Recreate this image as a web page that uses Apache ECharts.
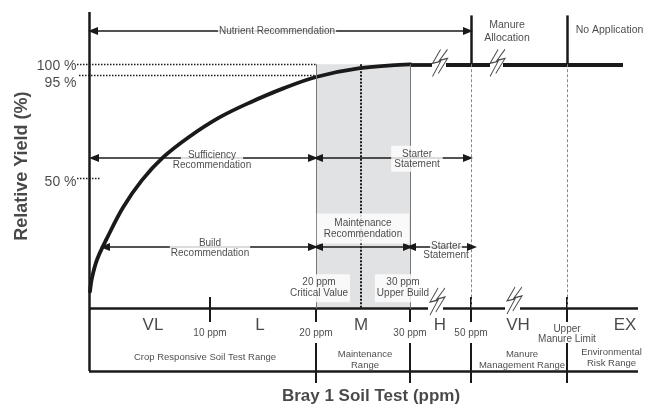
<!DOCTYPE html>
<html><head><meta charset="utf-8">
<script src="https://cdn.jsdelivr.net/npm/echarts@6/dist/echarts.min.js"></script>
<style>html,body{margin:0;padding:0;background:#fff}#c{width:652px;height:407px}</style>
</head><body><div id="c"></div>
<script>
// ---------- data ----------
// schematic soil-test position (x) vs relative yield % (y)
const curveX = [1, 3, 8, 18, 34, 53, 74, 100, 130, 160, 195, 228, 271, 321];
const curveY = [0, 6, 14, 23.5, 37, 49, 59, 68, 76.5, 83, 89.5, 94.5, 98.3, 100];
const yieldTicks = [100, 95, 50];
const yieldTickLabels = ['100 %', '95 %', '50 %'];
const ppmTickPos = [121, 227, 321, 382];
const ppmTickLabels = ['10 ppm', '20 ppm', '30 ppm', '50 ppm'];
const classPos = [64, 171, 272, 351, 429, 536];
const classNames = ['VL', 'L', 'M', 'H', 'VH', 'EX'];
const dividerPos = [227, 321, 382, 478];
const rangeLabelPos = [116, 276, 433, 522.5];
const rangeLabels = ['Crop Responsive Soil Test Range', 'Maintenance\nRange', 'Manure\nManagement Range', 'Environmental\nRisk Range'];
const criticalPos = 227, upperBuildPos = 321, manurePos = 382, manureLimitPos = 478, midM = 272;

// ---------- layout ----------
const FONT = "'Liberation Sans', Arial, sans-serif";
const INK = '#1a1a1a';
const AX_Y = -7.5, BOT_Y = -35, TOP_Y = 123, END_X = 549;

function seg(x1, y1, x2, y2, style, a1, a2) {
  return [
    { coord: [x1, y1], symbol: a1 ? 'triangle' : 'none', symbolSize: [8, 10] },
    { coord: [x2, y2], symbol: a2 ? 'triangle' : 'none', symbolSize: [8, 10], lineStyle: style }
  ];
}
const thick = { color: INK, width: 2.5, type: 'solid' };
const heavy = { color: INK, width: 3.8, type: 'solid' };
const tickS = { color: INK, width: 2, type: 'solid' };
const arrowS = { color: INK, width: 1.6, type: 'solid' };
const dotS = { color: INK, width: 1.3, type: [1.5, 1.5] };
const midS = { color: INK, width: 2, type: [2, 1.5] };
const dashS = { color: '#888', width: 1, type: [3, 2] };
const edgeS = { color: '#777', width: 1, type: 'solid' };

const lines = [];
// frame
lines.push(seg(0, TOP_Y, 0, BOT_Y, thick));
lines.push(seg(0, BOT_Y, END_X, BOT_Y, thick));
lines.push(seg(0, AX_Y, 339, AX_Y, thick));
lines.push(seg(354, AX_Y, 416, AX_Y, thick));
lines.push(seg(431, AX_Y, END_X, AX_Y, thick));
// top plateau
lines.push(seg(upperBuildPos, 100, 343, 100, heavy));
lines.push(seg(357, 100, 401, 100, heavy));
lines.push(seg(414, 100, 534, 100, heavy));
lines.push(seg(manurePos, 121.5, manurePos, 100, thick));
lines.push(seg(manureLimitPos, 121.5, manureLimitPos, 100, thick));
// ticks
[121, manurePos, manureLimitPos].forEach(x => lines.push(seg(x, -2.4, x, -13.4, tickS)));
[criticalPos, upperBuildPos].forEach(x => lines.push(seg(x, AX_Y, x, -13.4, tickS)));
dividerPos.forEach(x => lines.push(seg(x, -22.6, x, -40.2, tickS)));
// gray box edges, middle dotted, dashed guides
lines.push(seg(criticalPos, 100, criticalPos, AX_Y, edgeS));
lines.push(seg(upperBuildPos, 100, upperBuildPos, AX_Y, edgeS));
lines.push(seg(midM, 100, midM, AX_Y, midS));
lines.push(seg(manurePos, 100, manurePos, AX_Y, dashS));
lines.push(seg(manureLimitPos, 100, manureLimitPos, AX_Y, dashS));
// yield guides
lines.push(seg(-12, yieldTicks[0], criticalPos, yieldTicks[0], dotS));
lines.push(seg(-10, yieldTicks[1], criticalPos, yieldTicks[1], dotS));
lines.push(seg(-12, yieldTicks[2], 11, yieldTicks[2], dotS));
// arrows
lines.push(seg(4, 114.6, 379, 114.6, arrowS, 1, 1));
lines.push(seg(5, 58.8, 224, 58.8, arrowS, 1, 1));
lines.push(seg(229, 58.8, 379, 58.8, arrowS, 1, 1));
lines.push(seg(16, 19.6, 224, 19.6, arrowS, 1, 1));
lines.push(seg(229, 19.6, 319, 19.6, arrowS, 1, 1));
lines.push(seg(322, 19.6, 383, 19.6, arrowS, 1, 1));

// text items
function T(x, y, text, o) {
  o = o || {};
  return { value: [x, y], label: Object.assign({
    show: true, position: 'inside', formatter: text, color: INK, fontFamily: FONT,
    fontSize: 10, lineHeight: 10, align: 'center', verticalAlign: 'middle'
  }, o) };
}
const W = '#fff';
const texts = [];
const yLabelY = [99, 91.5, 48];
yieldTickLabels.forEach((t, i) => texts.push(T(-12.5, yLabelY[i], t, { fontSize: 14, align: 'right' })));
texts.push(T(-67, 55.2, 'Relative Yield (%)', { fontSize: 18, fontWeight: 'bold', rotate: 90 }));
texts.push(T(282, -46.3, 'Bray 1 Soil Test (ppm)', { fontSize: 17, fontWeight: 'bold' }));
texts.push(T(188, 114.6, 'Nutrient Recommendation', { backgroundColor: W, padding: [0, 1] }));
texts.push(T(418, 114.4, 'Manure\nAllocation', { fontSize: 10.5, lineHeight: 13 }));
texts.push(T(520.5, 115.1, 'No Application', { fontSize: 10.5 }));
texts.push(T(123, 57.6, '{a|Sufficiency}\n{b|Recommendation}', {
  rich: { a: { backgroundColor: W, padding: [0, 7], fontSize: 10, lineHeight: 10, fontFamily: FONT, color: INK },
          b: { fontSize: 10, lineHeight: 10, fontFamily: FONT, color: INK } } }));
texts.push(T(328, 58.4, 'Starter\nStatement', { backgroundColor: W, padding: [3, 3] }));
texts.push(T(121, 18.9, 'Build\nRecommendation', { backgroundColor: W, padding: [0, 1] }));
texts.push(T(274, 27.7, 'Maintenance\nRecommendation', { backgroundColor: W, padding: [4, 7], lineHeight: 11 }));
texts.push(T(357, 17.8, '{a|Starter}\n{b|Statement}', {
  rich: { a: { backgroundColor: W, padding: [0, 1], fontSize: 10, lineHeight: 9, fontFamily: FONT, color: INK },
          b: { fontSize: 10, lineHeight: 9, fontFamily: FONT, color: INK } } }));
texts.push(T(230, 1.5, '20 ppm\nCritical Value', { backgroundColor: W, padding: [3, 2], lineHeight: 11 }));
texts.push(T(314, 1.5, '30 ppm\nUpper Build', { backgroundColor: W, padding: [3, 2], lineHeight: 11 }));
classNames.forEach((t, i) => texts.push(T(classPos[i], -14.7, t, { fontSize: 17 })));
ppmTickLabels.forEach((t, i) => texts.push(T(ppmTickPos[i], -18.3, t, { fontSize: 10 })));
texts.push(T(manureLimitPos, -18.7, 'Upper\nManure Limit', { fontSize: 10, lineHeight: 10.5 }));
rangeLabels.forEach((t, i) => texts.push(T(rangeLabelPos[i], i === 0 ? -28.8 : (i === 3 ? -29.3 : -30.1), t, { fontSize: 9.5, lineHeight: 11 })));

const bolt = 'path://M9,0L2,14L9,12L2,27M15,0L8,11L15,9L7,24';
const boltPos = [[351, 100.6], [408.5, 100.6], [348.5, -4.4], [425.5, -3.9]];

const chart = echarts.init(document.getElementById('c'), null, { renderer: 'canvas' });
chart.setOption({
  animation: false,
  backgroundColor: '#fff',
  grid: { left: 19, right: 13, top: 12, bottom: 6.36 },
  xAxis: { type: 'value', min: -70, max: 550, show: false },
  yAxis: { type: 'value', min: -48, max: 123, show: false },
  series: [
    { type: 'line', data: [], z: 1, silent: true,
      markArea: { silent: true, itemStyle: { color: '#e1e2e4' },
        data: [[{ coord: [criticalPos, AX_Y] }, { coord: [upperBuildPos, 100] }]] } },
    { type: 'line', data: [], z: 3, silent: true,
      markLine: { silent: true, symbol: ['none', 'none'], label: { show: false },
        emphasis: { disabled: true }, animation: false, data: lines } },
    { type: 'line', z: 4, silent: true, symbol: 'none', smooth: 0.35,
      lineStyle: { color: INK, width: 3.8, cap: 'round' },
      data: curveX.map((x, i) => [x, curveY[i]]) },
    { type: 'scatter', z: 6, silent: true, symbolSize: 1, itemStyle: { color: 'rgba(0,0,0,0)' },
      data: texts },
    { type: 'scatter', z: 7, silent: true, symbol: bolt, symbolSize: [15, 27], symbolKeepAspect: false,
      itemStyle: { color: 'rgba(0,0,0,0)', borderColor: INK, borderWidth: 1 },
      data: boltPos }
  ]
});
</script></body></html>
